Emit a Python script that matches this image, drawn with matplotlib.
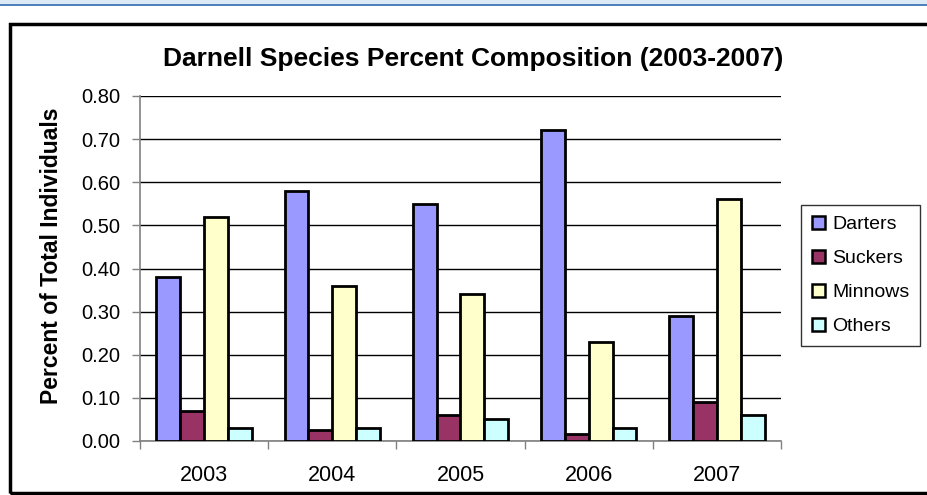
import matplotlib
matplotlib.use("Agg")
import matplotlib.pyplot as plt
import numpy as np
from matplotlib.patches import Rectangle

plt.rcParams['font.family'] = ['Liberation Sans', 'DejaVu Sans']

years = ["2003", "2004", "2005", "2006", "2007"]
darters = [0.38, 0.58, 0.55, 0.72, 0.29]
suckers = [0.07, 0.025, 0.06, 0.016, 0.09]
minnows = [0.52, 0.36, 0.34, 0.23, 0.56]
others = [0.03, 0.03, 0.05, 0.03, 0.06]
series_names = ["Darters", "Suckers", "Minnows", "Others"]
series_colors = ["#9999FF", "#993366", "#FFFFCC", "#CCFFFF"]
y_ticks = [0.0, 0.1, 0.2, 0.3, 0.4, 0.5, 0.6, 0.7, 0.8]

W, H = 928, 495
fig = plt.figure(figsize=(W / 100, H / 100), dpi=100)
fig.patch.set_facecolor("white")

# page band at the top and chart frame
fig.patches.append(Rectangle((0, 1 - 4 / H), 1, 4 / H, transform=fig.transFigure,
                             facecolor="#DCE9F7", edgecolor="none", zorder=0))
fig.patches.append(Rectangle((0, 1 - 6 / H), 1, 2 / H, transform=fig.transFigure,
                             facecolor="#4F81BD", edgecolor="none", zorder=0))
fig.patches.append(Rectangle((10 / W, 2 / H), (W + 20) / W, (H - 26) / H,
                             transform=fig.transFigure, facecolor="none",
                             edgecolor="black", linewidth=2.5, zorder=0))

left, right, top, bottom = 140, 781, 96, 441
ax = fig.add_axes([left / W, (H - bottom) / H, (right - left) / W, (bottom - top) / H])

x = np.arange(len(years))
bw = 0.186
offsets = np.array([-1.5, -0.5, 0.5, 1.5]) * bw
for vals, off, name, col in zip([darters, suckers, minnows, others], offsets,
                                series_names, series_colors):
    ax.bar(x + off, vals, width=bw, color=col, edgecolor="black",
           linewidth=2.0, label=name, zorder=3)

ax.set_xlim(-0.5, len(years) - 0.5)
ax.set_ylim(0, 0.8)
ax.set_yticks(y_ticks)
ax.set_yticklabels([f"{v:.2f}" for v in y_ticks])
ax.yaxis.grid(True, color="black", linewidth=1.0, zorder=0)
ax.set_axisbelow(True)

ax.set_xticks(x)
ax.set_xticklabels(years)
ax.set_xticks(np.arange(-0.5, len(years), 1.0), minor=True)
ax.tick_params(axis="x", which="major", length=0, pad=17, labelsize=15.5)
ax.tick_params(axis="x", which="minor", length=6, width=1, color="#808080",
               direction="out")
ax.tick_params(axis="y", length=6, width=1, color="#808080", direction="out",
               pad=8, labelsize=14.5)

for s in ["top", "right"]:
    ax.spines[s].set_visible(False)
for s in ["left", "bottom"]:
    ax.spines[s].set_color("#808080")
    ax.spines[s].set_linewidth(1.2)

fig.text(52 / W, 1 - 256 / H, "Percent of Total Individuals", rotation=90,
         ha="center", va="center", fontsize=16.5, fontweight="bold")
fig.text(473 / W, 1 - 59 / H, "Darnell Species Percent Composition (2003-2007)",
         ha="center", va="center", fontsize=19, fontweight="bold")

leg = fig.legend(loc="upper left", bbox_to_anchor=(801 / W, 1 - 205 / H),
                 frameon=True, fancybox=False, fontsize=14, handlelength=0.67,
                 handleheight=0.67, handletextpad=0.4, labelspacing=0.85,
                 borderpad=0.55, borderaxespad=0)
leg.get_frame().set_edgecolor("black")
leg.get_frame().set_linewidth(1.0)
for h in leg.legend_handles:
    h.set_linewidth(1.8)

fig.savefig("out.png", dpi=100)
